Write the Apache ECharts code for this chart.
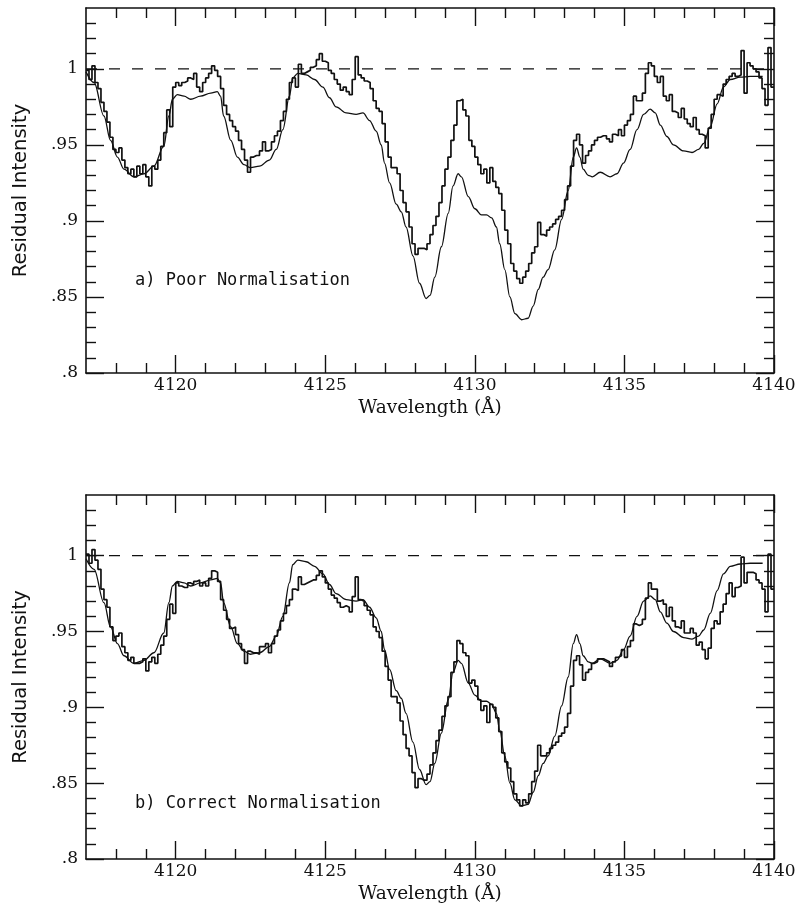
<!DOCTYPE html>
<html>
<head>
<meta charset="utf-8">
<script src="https://cdn.jsdelivr.net/npm/echarts@6/dist/echarts.min.js"></script>
<style>
  html, body { margin: 0; padding: 0; background: #fff; }
  #chart { width: 799px; height: 908px; }
</style>
</head>
<body>
<div id="chart"></div>
<script>
// Spectrum binning: 0.1 A bins starting at 4117.0 A
const waveStart = 4117.0;
const waveStep = 0.1;

// Observed residual intensity, normalised with a poor continuum fit
const obsPoor = [
  0.999, 0.993, 1.002, 0.991, 0.987, 0.978, 0.972, 0.965, 0.955, 0.947,
  0.945, 0.948, 0.940, 0.935, 0.931, 0.934, 0.929, 0.936, 0.931, 0.937,
  0.929, 0.923, 0.936, 0.934, 0.940, 0.949, 0.958, 0.973, 0.962, 0.988,
  0.991, 0.989, 0.991, 0.992, 0.994, 0.993, 0.997, 0.988, 0.985, 0.991,
  0.994, 0.997, 1.002, 0.999, 0.995, 0.987, 0.976, 0.970, 0.966, 0.962,
  0.959, 0.953, 0.947, 0.940, 0.932, 0.942, 0.943, 0.943, 0.946, 0.952,
  0.946, 0.947, 0.952, 0.956, 0.959, 0.966, 0.972, 0.980, 0.991, 0.994,
  0.988, 1.003, 0.997, 0.998, 0.999, 1.001, 1.002, 1.006, 1.010, 1.005,
  1.004, 0.999, 0.997, 0.993, 0.990, 0.986, 0.988, 0.985, 0.983, 0.993,
  1.008, 0.996, 0.994, 0.992, 0.991, 0.987, 0.979, 0.974, 0.972, 0.964,
  0.952, 0.942, 0.935, 0.935, 0.931, 0.920, 0.912, 0.906, 0.896, 0.885,
  0.878, 0.882, 0.882, 0.881, 0.885, 0.891, 0.897, 0.903, 0.912, 0.923,
  0.934, 0.942, 0.953, 0.963, 0.979, 0.980, 0.973, 0.969, 0.953, 0.949,
  0.942, 0.937, 0.931, 0.934, 0.925, 0.935, 0.926, 0.922, 0.918, 0.907,
  0.894, 0.885, 0.872, 0.867, 0.862, 0.859, 0.863, 0.867, 0.872, 0.879,
  0.883, 0.899, 0.891, 0.890, 0.894, 0.896, 0.898, 0.901, 0.903, 0.907,
  0.914, 0.923, 0.936, 0.953, 0.957, 0.950, 0.938, 0.943, 0.946, 0.950,
  0.953, 0.955, 0.956, 0.956, 0.954, 0.952, 0.957, 0.956, 0.960, 0.956,
  0.963, 0.966, 0.970, 0.982, 0.979, 0.979, 0.984, 0.997, 1.004, 1.002,
  0.995, 0.991, 0.995, 0.982, 0.979, 0.983, 0.972, 0.971, 0.968, 0.974,
  0.967, 0.964, 0.962, 0.968, 0.960, 0.957, 0.956, 0.948, 0.961, 0.970,
  0.980, 0.983, 0.982, 0.990, 0.993, 0.995, 0.997, 0.995, 0.996, 1.012,
  0.984, 1.004, 1.002, 1.000, 0.998, 0.994, 0.987, 0.976, 1.014, 0.988
];

// Observed residual intensity, normalised with the correct continuum
const obsCorrect = [
  1.001, 0.995, 1.004, 0.997, 0.991, 0.978, 0.971, 0.966, 0.953, 0.944,
  0.947, 0.949, 0.940, 0.936, 0.931, 0.933, 0.929, 0.929, 0.930, 0.932,
  0.924, 0.930, 0.933, 0.929, 0.935, 0.941, 0.947, 0.958, 0.968, 0.962,
  0.982, 0.980, 0.979, 0.979, 0.982, 0.981, 0.983, 0.984, 0.980, 0.982,
  0.980, 0.985, 0.990, 0.989, 0.983, 0.971, 0.964, 0.958, 0.952, 0.953,
  0.948, 0.942, 0.938, 0.929, 0.937, 0.936, 0.936, 0.935, 0.940, 0.940,
  0.942, 0.936, 0.942, 0.947, 0.951, 0.957, 0.962, 0.967, 0.971, 0.978,
  0.977, 0.986, 0.981, 0.982, 0.983, 0.984, 0.984, 0.987, 0.990, 0.986,
  0.982, 0.978, 0.974, 0.972, 0.969, 0.966, 0.967, 0.966, 0.963, 0.973,
  0.986, 0.971, 0.970, 0.967, 0.964, 0.961, 0.953, 0.950, 0.946, 0.937,
  0.927, 0.918, 0.907, 0.907, 0.903, 0.891, 0.882, 0.873, 0.868, 0.857,
  0.847, 0.853, 0.852, 0.852, 0.856, 0.862, 0.870, 0.878, 0.885, 0.894,
  0.901, 0.907, 0.923, 0.930, 0.944, 0.942, 0.936, 0.934, 0.916, 0.918,
  0.914, 0.905, 0.898, 0.901, 0.890, 0.902, 0.900, 0.893, 0.884, 0.870,
  0.864, 0.860, 0.851, 0.843, 0.839, 0.835, 0.839, 0.837, 0.843, 0.851,
  0.858, 0.875, 0.868, 0.868, 0.870, 0.873, 0.875, 0.877, 0.881, 0.883,
  0.887, 0.896, 0.914, 0.931, 0.934, 0.928, 0.918, 0.923, 0.925, 0.929,
  0.930, 0.932, 0.932, 0.931, 0.930, 0.927, 0.930, 0.933, 0.934, 0.938,
  0.933, 0.940, 0.944, 0.955, 0.954, 0.955, 0.958, 0.972, 0.982, 0.978,
  0.978, 0.970, 0.971, 0.968, 0.960, 0.966, 0.957, 0.953, 0.952, 0.957,
  0.949, 0.949, 0.952, 0.949, 0.941, 0.943, 0.938, 0.932, 0.939, 0.952,
  0.957, 0.955, 0.963, 0.968, 0.975, 0.982, 0.973, 0.979, 0.980, 0.999,
  0.982, 0.989, 0.989, 0.988, 0.984, 0.982, 0.978, 0.963, 1.001, 0.978
];

// Synthetic model profile (same in both panels)
const modelWave = [
  4117.00, 4117.27, 4117.60, 4117.82, 4118.05, 4118.27, 4118.60, 4118.94, 4119.27, 4119.60,
  4119.77, 4119.89, 4120.05, 4120.28, 4120.50, 4120.83, 4121.17, 4121.39, 4121.50, 4121.60,
  4121.84, 4122.06, 4122.28, 4122.50, 4122.80, 4123.13, 4123.36, 4123.58, 4123.80, 4123.91,
  4124.08, 4124.36, 4124.64, 4124.92, 4125.14, 4125.36, 4125.70, 4126.03, 4126.26, 4126.48,
  4126.70, 4126.87, 4126.98, 4127.15, 4127.37, 4127.54, 4127.70, 4127.93, 4128.15, 4128.37,
  4128.50, 4128.66, 4128.88, 4129.11, 4129.27, 4129.44, 4129.55, 4129.78, 4130.00, 4130.22,
  4130.39, 4130.56, 4130.72, 4130.83, 4131.00, 4131.17, 4131.34, 4131.56, 4131.78, 4131.95,
  4132.12, 4132.28, 4132.45, 4132.67, 4132.90, 4133.12, 4133.29, 4133.40, 4133.51, 4133.62,
  4133.79, 4133.93, 4134.19, 4134.52, 4134.75, 4134.97, 4135.19, 4135.42, 4135.64, 4135.86,
  4136.03, 4136.20, 4136.42, 4136.64, 4136.98, 4137.26, 4137.48, 4137.65, 4137.87, 4138.10,
  4138.31, 4138.54, 4138.87, 4139.20, 4139.62
];
const modelFlux = [
  0.998, 0.991, 0.969, 0.953, 0.942, 0.934, 0.929, 0.931, 0.936, 0.949,
  0.969, 0.980, 0.983, 0.982, 0.980, 0.982, 0.984, 0.985, 0.982, 0.969,
  0.953, 0.942, 0.937, 0.935, 0.936, 0.940, 0.947, 0.960, 0.982, 0.994,
  0.997, 0.996, 0.993, 0.988, 0.981, 0.975, 0.971, 0.970, 0.971, 0.966,
  0.959, 0.950, 0.938, 0.925, 0.911, 0.906, 0.896, 0.877, 0.859, 0.849,
  0.851, 0.863, 0.883, 0.905, 0.923, 0.931, 0.929, 0.916, 0.908, 0.904,
  0.904, 0.902, 0.896, 0.885, 0.868, 0.850, 0.839, 0.835, 0.836, 0.844,
  0.855, 0.863, 0.868, 0.881, 0.901, 0.920, 0.942, 0.948, 0.942, 0.934,
  0.930, 0.929, 0.932, 0.929, 0.931, 0.938, 0.947, 0.960, 0.970, 0.9735,
  0.971, 0.963, 0.9555, 0.950, 0.946, 0.945, 0.947, 0.951, 0.962, 0.977,
  0.988, 0.993, 0.9945, 0.995, 0.995
];

const continuumLevel = 1.0;
const xRange = [4117, 4140];
const yRange = [0.8, 1.04];
const xMajorTicks = [4120, 4125, 4130, 4135, 4140];
const xMinorTicks = [4118, 4119, 4121, 4122, 4123, 4124, 4126, 4127, 4128, 4129,
                     4131, 4132, 4133, 4134, 4136, 4137, 4138, 4139];
const yMajorTicks = [0.8, 0.85, 0.9, 0.95, 1.0];
const yTickLabels = ['.8', '.85', '.9', '.95', '1'];
const yMinorTicks = [0.81, 0.82, 0.83, 0.84, 0.86, 0.87, 0.88, 0.89, 0.91, 0.92,
                     0.93, 0.94, 0.96, 0.97, 0.98, 0.99, 1.01, 1.02, 1.03];
const panelLabels = ['a) Poor Normalisation', 'b) Correct Normalisation'];
const xTitle = 'Wavelength (Å)';
const yTitle = 'Residual Intensity';

const ink = '#111';
const serifFont = '"DejaVu Serif", serif';
const monoFont = '"DejaVu Sans Mono", monospace';
const sansFont = '"DejaVu Sans", sans-serif';

// Build histogram points for step drawing
function stepPoints(values) {
  const pts = values.map((v, i) => [+(waveStart + i * waveStep).toFixed(2), v]);
  pts.push([+(waveStart + values.length * waveStep).toFixed(2), values[values.length - 1]]);
  return pts;
}
const modelPoints = modelWave.map((w, i) => [w, modelFlux[i]]);

const grids = [
  { left: 86, right: 25, top: 8, height: 365 },
  { left: 86, right: 25, top: 495, height: 364 }
];

const xAxes = [];
const yAxes = [];
grids.forEach((g, gi) => {
  const xb = { gridIndex: gi, type: 'value', min: xRange[0], max: xRange[1],
               splitLine: { show: false } };
  const yb = { gridIndex: gi, type: 'value', min: yRange[0], max: yRange[1],
               splitLine: { show: false } };
  const lineOn = { show: true, lineStyle: { color: ink, width: 1.6 } };
  const majTick = (vals) => ({ show: true, inside: true, length: 18, customValues: vals,
                               lineStyle: { color: ink, width: 1.4 } });
  const minTick = (vals) => ({ show: true, inside: true, length: 10, customValues: vals,
                               lineStyle: { color: ink, width: 1.4 } });
  xAxes.push(
    Object.assign({}, xb, {
      position: 'bottom', axisLine: lineOn, axisTick: majTick(xMajorTicks),
      axisLabel: { show: true, customValues: xMajorTicks, margin: 4, color: ink,
                   fontFamily: serifFont, fontSize: 17, formatter: v => String(v) },
      name: xTitle, nameLocation: 'middle', nameGap: 26,
      nameTextStyle: { color: ink, fontFamily: serifFont, fontSize: 18.5 }
    }),
    Object.assign({}, xb, { position: 'bottom', axisLine: { show: false },
      axisTick: minTick(xMinorTicks), axisLabel: { show: false } }),
    Object.assign({}, xb, { position: 'top', axisLine: lineOn,
      axisTick: majTick(xMajorTicks), axisLabel: { show: false } }),
    Object.assign({}, xb, { position: 'top', axisLine: { show: false },
      axisTick: minTick(xMinorTicks), axisLabel: { show: false } })
  );
  yAxes.push(
    Object.assign({}, yb, {
      position: 'left', axisLine: lineOn, axisTick: majTick(yMajorTicks),
      axisLabel: { show: true, customValues: yMajorTicks, margin: 8, color: ink,
                   fontFamily: serifFont, fontSize: 17,
                   formatter: v => yTickLabels[yMajorTicks.findIndex(t => Math.abs(t - v) < 1e-9)] || '' },
      name: yTitle, nameLocation: 'middle', nameGap: 55, nameRotate: 90,
      nameTextStyle: { color: ink, fontFamily: sansFont, fontSize: 19.5 }
    }),
    Object.assign({}, yb, { position: 'left', axisLine: { show: false },
      axisTick: minTick(yMinorTicks), axisLabel: { show: false } }),
    Object.assign({}, yb, { position: 'right', axisLine: lineOn,
      axisTick: majTick(yMajorTicks), axisLabel: { show: false } }),
    Object.assign({}, yb, { position: 'right', axisLine: { show: false },
      axisTick: minTick(yMinorTicks), axisLabel: { show: false } })
  );
});

const series = [];
[obsPoor, obsCorrect].forEach((obs, gi) => {
  const ax = gi * 4;
  series.push(
    { type: 'line', xAxisIndex: ax, yAxisIndex: ax, data: stepPoints(obs), step: 'end',
      symbol: 'none', silent: true, animation: false,
      lineStyle: { color: ink, width: 1.7 } },
    { type: 'line', xAxisIndex: ax, yAxisIndex: ax, data: modelPoints,
      smooth: 0.35, smoothMonotone: 'x',
      symbol: 'none', silent: true, animation: false,
      lineStyle: { color: ink, width: 1.3 } },
    { type: 'line', xAxisIndex: ax, yAxisIndex: ax,
      data: [[xRange[0], continuumLevel], [xRange[1], continuumLevel]],
      symbol: 'none', silent: true, animation: false,
      lineStyle: { color: ink, width: 1.4, type: [11, 12] } }
  );
});

const chart = echarts.init(document.getElementById('chart'), null, { renderer: 'canvas' });
chart.setOption({
  backgroundColor: '#fff',
  animation: false,
  grid: grids,
  xAxis: xAxes,
  yAxis: yAxes,
  series: series,
  graphic: [
    { type: 'text', left: 135, top: 272,
      style: { text: panelLabels[0], fill: ink, font: '17px ' + monoFont } },
    { type: 'text', left: 135, top: 795,
      style: { text: panelLabels[1], fill: ink, font: '17px ' + monoFont } }
  ]
});
</script>
</body>
</html>
